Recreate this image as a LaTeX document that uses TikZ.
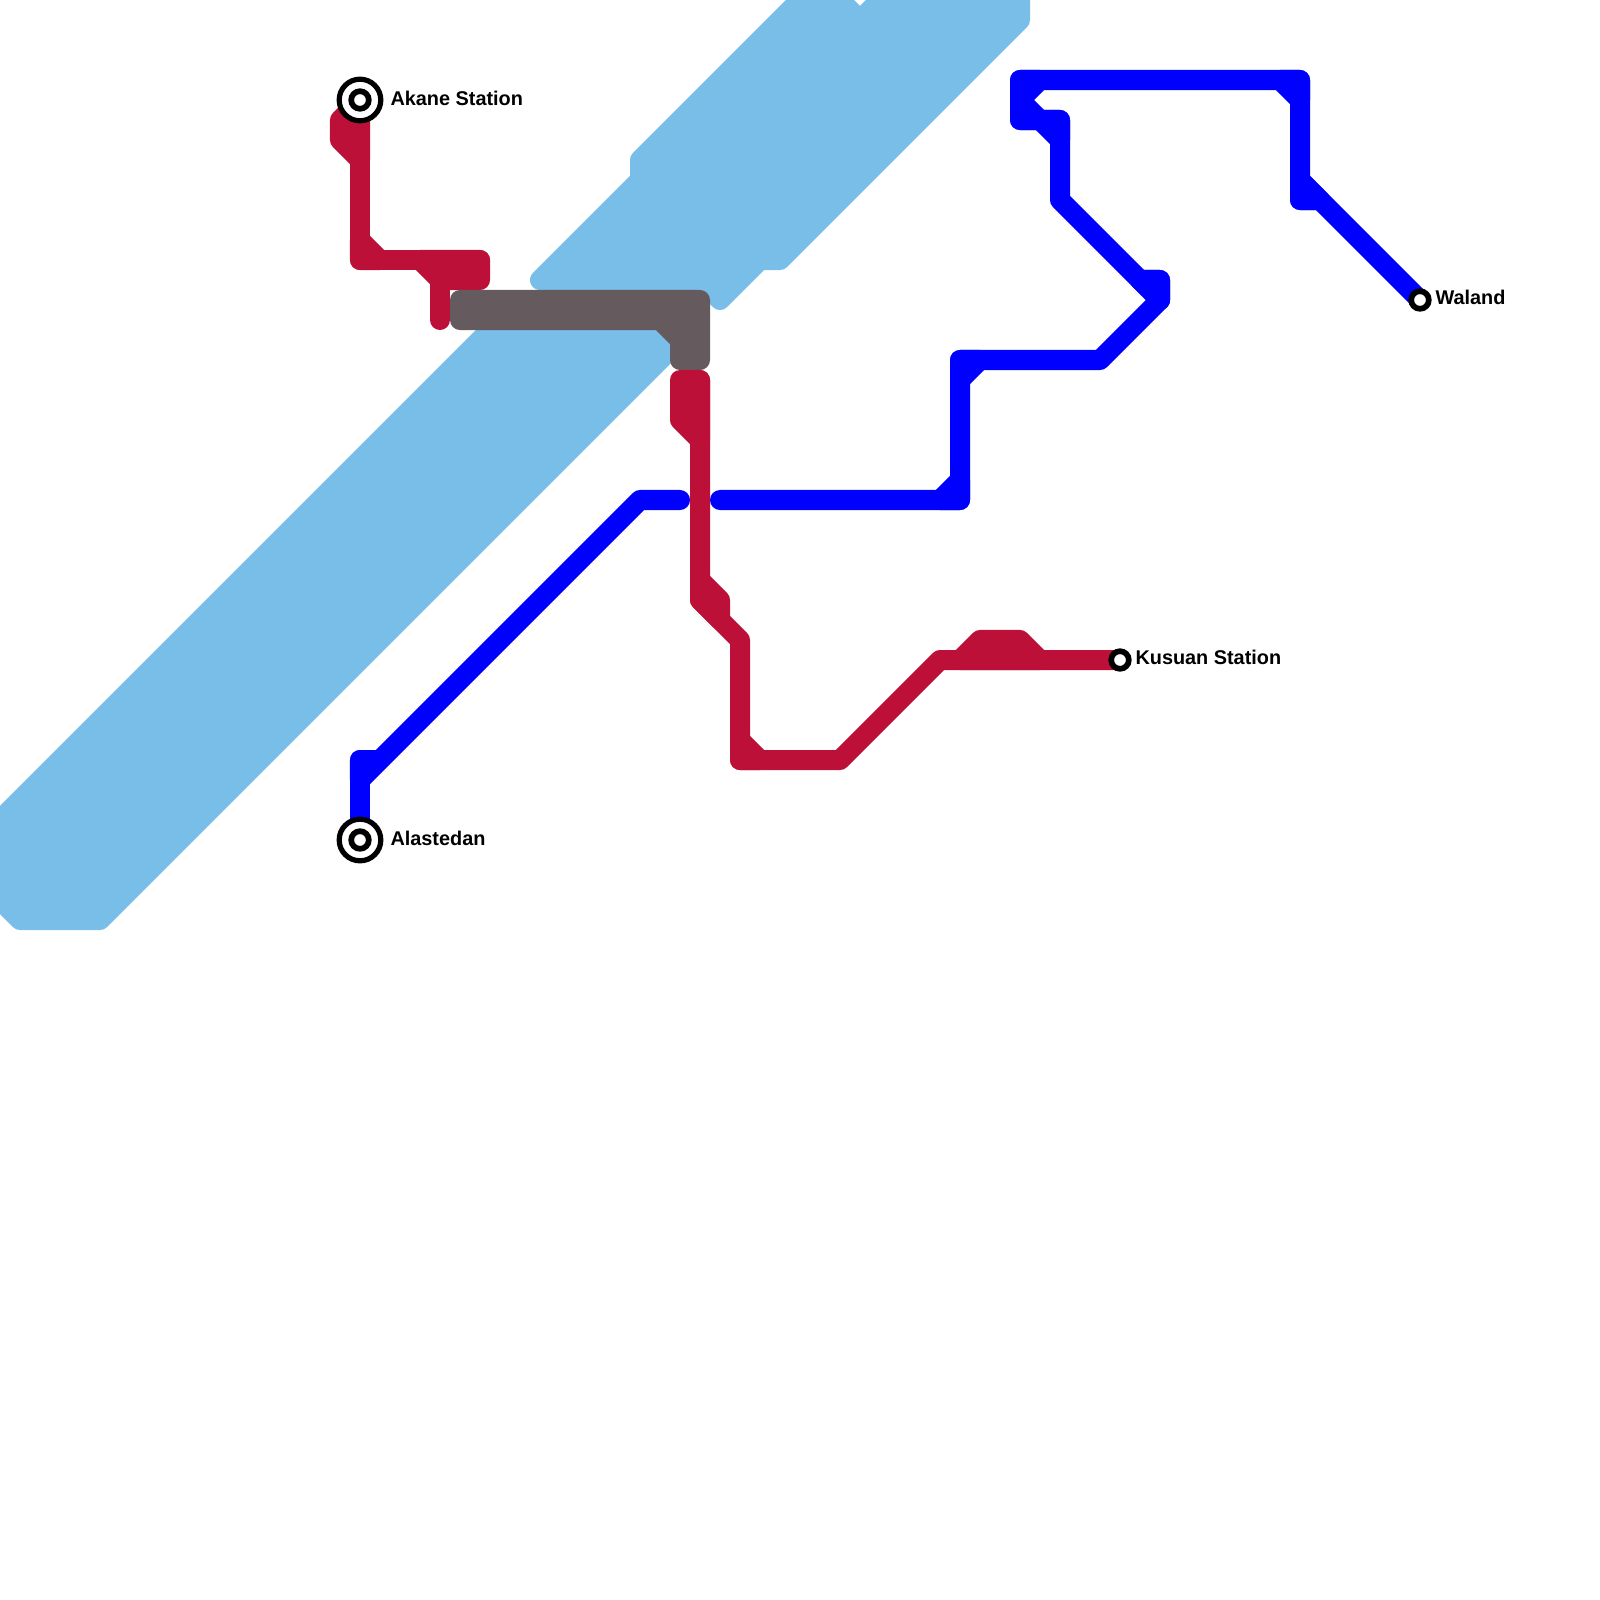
\documentclass[tikz,border=0pt]{standalone}
\usepackage{fontspec}
\setmainfont{Liberation Sans}
\definecolor{water}{HTML}{79BDE9}
\definecolor{redline}{HTML}{BD1038}
\definecolor{blueline}{HTML}{0000FF}
\definecolor{greyline}{HTML}{655A5E}
\tikzset{
  rail/.style={line width=0.2cm,line cap=round,line join=round},
  redrail/.style={rail,draw=redline},
  bluerail/.style={rail,draw=blueline},
  redblock/.style={redrail,fill=redline},
  blueblock/.style={bluerail,fill=blueline},
  greyblock/.style={rail,draw=greyline,fill=greyline},
  waterblock/.style={rail,draw=water,fill=water},
  stationdot/.style={circle,draw=black,fill=white,line width=0.057cm,minimum size=0.176cm,inner sep=0pt,outer sep=0pt},
  stationring/.style={circle,draw=black,fill=white,line width=0.052cm,minimum size=0.416cm,inner sep=0pt,outer sep=0pt},
  stationlabel/.style={anchor=base west,inner sep=0pt,outer sep=0pt,text=black,font=\fontsize{5.65pt}{7pt}\selectfont\bfseries}
}
\begin{document}
\begin{tikzpicture}[x=0.01cm,y=-0.01cm]
\useasboundingbox (0,0) rectangle (1600,1600);
\clip (0,0) rectangle (1600,1600);
\coordinate (stA) at (360,100);
\coordinate (stB) at (360,840);
\coordinate (stK) at (1120,660);
\coordinate (stW) at (1420,300);
% water
\draw[waterblock] (540,280) -- (640,180) -- (640,160) -- (820,-20) -- (860,20) -- (920,-40) -- (1020,-40) -- (1020,20) -- (780,260) -- (760,260) -- (720,300) -- (700,280) -- cycle;
\draw[waterblock] (20,920) -- (100,920) -- (680,340) -- (660,320) -- (500,320) -- (-20,840) -- (-20,880) -- cycle;
% red, north part
\draw[redblock] (stA) -- (340,120) -- (340,140) -- (360,160) -- cycle;
\draw[redblock] (360,240) -- (380,260) -- (360,260) -- cycle;
\draw[redrail] (stA) -- (360,260) -- (480,260);
\draw[redblock] (420,260) -- (480,260) -- (480,280) -- (440,280) -- cycle;
\draw[redrail] (440,280) -- (440,320);
% grey
\draw[greyblock] (460,300) -- (700,300) -- (700,360) -- (680,360) -- (680,340) -- (660,320) -- (460,320) -- cycle;
% red, south part
\draw[redblock] (680,380) -- (700,380) -- (700,440) -- (680,420) -- cycle;
\draw[redblock] (700,580) -- (720,600) -- (720,620) -- (700,600) -- cycle;
\draw[redblock] (740,740) -- (760,760) -- (740,760) -- cycle;
\draw[redblock] (960,660) -- (980,640) -- (1020,640) -- (1040,660) -- cycle;
\draw[redrail] (700,380) -- (700,600) -- (740,640) -- (740,760) -- (840,760) -- (940,660) -- (stK);
% blue, west part
\draw[bluerail] (stB) -- (360,760) -- (376,760);
\draw[blueblock] (360,760) -- (376,760) -- (360,780) -- cycle;
\draw[bluerail] (360,780) -- (640,500) -- (680,500);
% blue, east part
\draw[bluerail] (720,500) -- (960,500) -- (960,360) -- (1100,360) -- (1160,300) -- (1160,280) -- (1140,280);
\draw[blueblock] (940,500) -- (960,480) -- (960,500) -- cycle;
\draw[blueblock] (960,380) -- (980,360) -- (960,360) -- cycle;
\draw[blueblock] (1140,280) -- (1160,280) -- (1160,300) -- cycle;
\draw[bluerail] (1160,300) -- (1060,200) -- (1060,120) -- (1020,120) -- (1020,80) -- (1300,80) -- (1300,200) -- (1316,200);
\draw[blueblock] (1020,80) -- (1040,80) -- (1020,100) -- cycle;
\draw[blueblock] (1020,100) -- (1040,120) -- (1020,120) -- cycle;
\draw[blueblock] (1040,120) -- (1060,120) -- (1060,140) -- cycle;
\draw[blueblock] (1280,80) -- (1300,80) -- (1300,100) -- cycle;
\draw[blueblock] (1300,180) -- (1320,200) -- (1300,200) -- cycle;
\draw[bluerail] (1300,180) -- (stW);
% stations
\node[stationring] (akaneOuter) at (stA) {};
\node[stationdot] (akaneInner) at (stA) {};
\node[stationring] (alastedanOuter) at (stB) {};
\node[stationdot] (alastedanInner) at (stB) {};
\node[stationdot] (kusuan) at (stK) {};
\node[stationdot] (waland) at (stW) {};
% labels
\node[stationlabel] (akaneLabel) at (390.5,105.5) {Akane Station};
\node[stationlabel] (alastedanLabel) at (390.5,845) {Alastedan};
\node[stationlabel] (kusuanLabel) at (1135.5,664.8) {Kusuan Station};
\node[stationlabel] (walandLabel) at (1435.5,304.8) {Waland};
\end{tikzpicture}
\end{document}
